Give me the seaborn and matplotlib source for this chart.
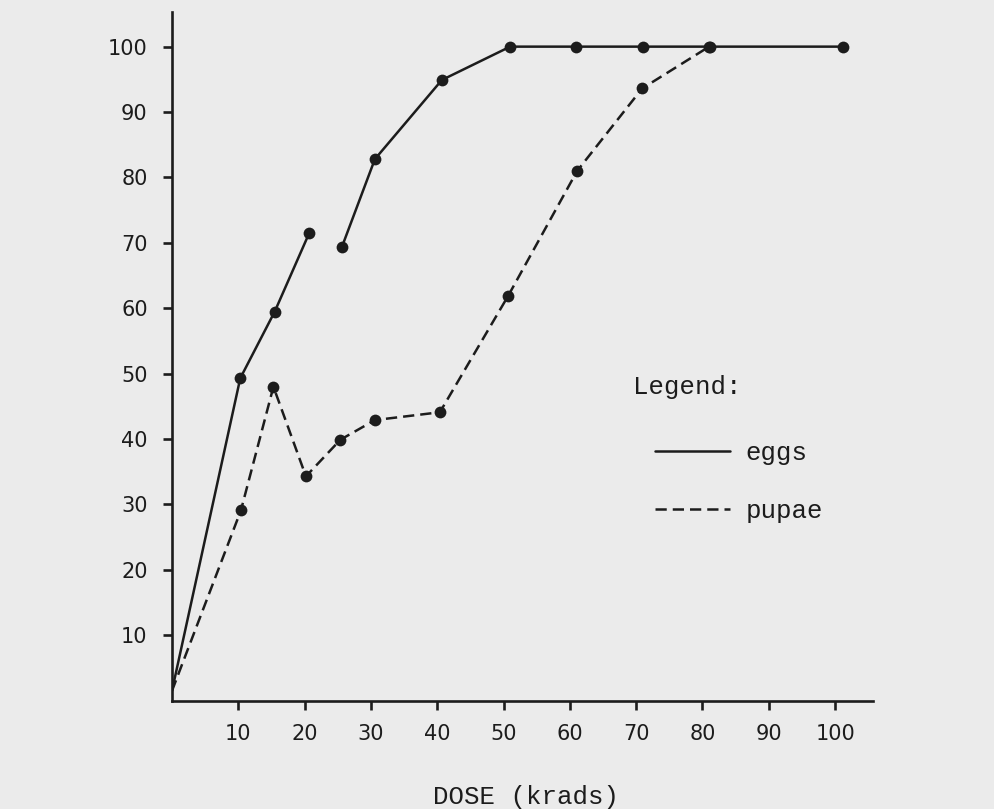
import pandas as pd
import numpy as np
import matplotlib
matplotlib.use("Agg")
import matplotlib.pyplot as plt
from matplotlib.lines import Line2D
import seaborn as sns

# Values (dose in krads, mortality in percent)
eggs_dose = [0, 10.3, 15.5, 20.7, 25.6, 30.6, 40.7, 51.0, 61.0, 71.0, 81.1, 101.2]
eggs_mort = [1.5, 49.3, 59.5, 71.5, 69.3, 82.8, 94.9, 100, 100, 100, 100, 100]
eggs_segment = [0, 0, 0, 0, 1, 1, 1, 1, 1, 1, 1, 1]  # the curve is broken between 20 and 25

pupae_dose = [0, 10.4, 15.3, 20.2, 25.4, 30.6, 40.4, 50.7, 61.1, 70.9, 81.0]
pupae_mort = [1.5, 29.1, 48.0, 34.3, 39.9, 42.9, 44.1, 61.9, 81.0, 93.6, 100]
pupae_segment = [0] * len(pupae_dose)

x_ticks = [10, 20, 30, 40, 50, 60, 70, 80, 90, 100]
y_ticks = [10, 20, 30, 40, 50, 60, 70, 80, 90, 100]

# Long-form table for seaborn
eggs = pd.DataFrame({"dose": eggs_dose, "mortality": eggs_mort,
                     "segment": eggs_segment, "stage": "eggs"})
pupae = pd.DataFrame({"dose": pupae_dose, "mortality": pupae_mort,
                      "segment": pupae_segment, "stage": "pupae"})
df = pd.concat([eggs, pupae], ignore_index=True)
df["unit"] = df["stage"] + df["segment"].astype(str)

ink = "#1c1c1c"
paper = "#ebebeb"

sns.set_style("ticks")
plt.rcParams["font.family"] = ["DejaVu Sans"]

fig = plt.figure(figsize=(9.94, 8.09), dpi=100, facecolor=paper)
ax = fig.add_axes([0.173, 0.1339, 0.7052, 0.8513])
ax.set_facecolor(paper)

sns.lineplot(data=df, x="dose", y="mortality", style="stage", units="unit",
             estimator=None, sort=False, color=ink, linewidth=1.8,
             dashes={"eggs": "", "pupae": (4.5, 2.4)}, legend=False, ax=ax)

# dots at every measured dose (not at the origin)
pts = df[df["dose"] > 0]
sns.scatterplot(data=pts, x="dose", y="mortality", color=ink, s=72,
                edgecolor=ink, linewidth=0, zorder=3, legend=False, ax=ax)

ax.set_xlim(0, 105.7)
ax.set_ylim(0, 105.3)
ax.set_xticks(x_ticks)
ax.set_yticks(y_ticks)
ax.set_xticklabels([str(t) for t in x_ticks])
ax.set_yticklabels([str(t) for t in y_ticks])
ax.tick_params(axis="both", colors=ink, width=1.9, length=6.5,
               labelsize=15, direction="out")
ax.tick_params(axis="x", pad=10)
ax.tick_params(axis="y", pad=11)

sns.despine(ax=ax)
for side in ["left", "bottom"]:
    ax.spines[side].set_linewidth(1.9)
    ax.spines[side].set_color(ink)

ax.set_ylabel("")
ax.set_xlabel("DOSE (krads)", fontsize=18.5, family="Liberation Mono", color=ink)
ax.xaxis.label.set_va("center")
ax.xaxis.set_label_coords(0.505, -0.14)

# legend in the typewriter style of the original
fig.text(633 / 994, 1 - 387 / 809, "Legend:", fontsize=18.5,
         family="Liberation Mono", color=ink, ha="left", va="center")
handles = [Line2D([], [], color=ink, linewidth=1.8, linestyle="-"),
           Line2D([], [], color=ink, linewidth=1.8, linestyle=(0, (4.5, 2.4)))]
ax.legend(handles, ["eggs", "pupae"], loc="center left",
          bbox_to_anchor=(655 / 994, 1 - 482 / 809), bbox_transform=fig.transFigure,
          frameon=False, borderpad=0, borderaxespad=0, handlelength=2.9,
          handletextpad=0.62, labelspacing=1.3,
          prop={"family": "Liberation Mono", "size": 18.5}, labelcolor=ink)

fig.savefig("out.png", dpi=100, facecolor=paper)
